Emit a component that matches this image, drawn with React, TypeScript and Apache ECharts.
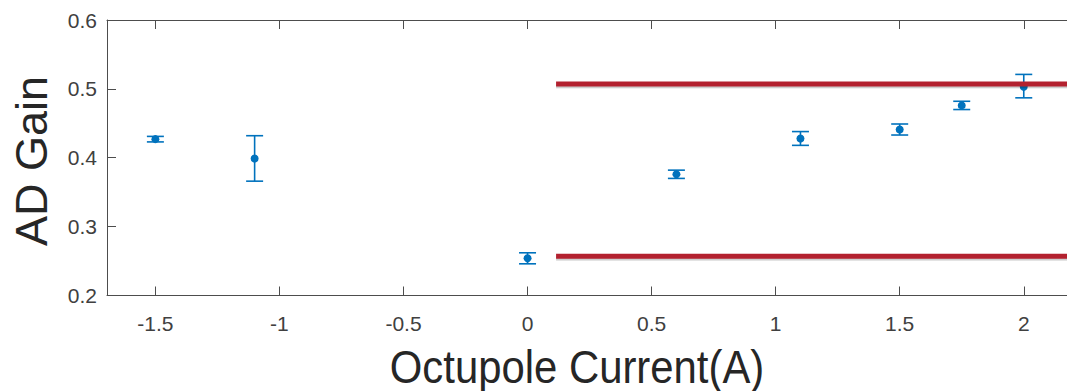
import React, { useEffect, useRef } from "react";
import * as echarts from "echarts";

// Octupole current (A)
const currents = [-1.5, -1.1, 0, 0.6, 1.1, 1.5, 1.75, 2];
// AD gain (point value)
const gains = [0.427, 0.399, 0.254, 0.376, 0.428, 0.441, 0.476, 0.503];
// error below / above the point
const errLow = [0.004, 0.033, 0.008, 0.006, 0.010, 0.008, 0.006, 0.016];
const errHigh = [0.004, 0.033, 0.008, 0.006, 0.010, 0.008, 0.006, 0.018];

// red reference lines: start x, end x, level
const refLineStart = [0.115, 0.115];
const refLineEnd = [2.4, 2.4];
const refLineLevel = [0.507, 0.257];

const xMin = -1.695;
const xMax = 2.4;
const yMin = 0.2;
const yMax = 0.6;
const yStep = 0.1;

const BLUE = "#0072BD";
const AXIS = "#4d4d4d";
const FONT = "Liberation Sans";

export default function App() {
  const ref = useRef<HTMLDivElement>(null);

  useEffect(() => {
    if (!ref.current) return;
    const chart = echarts.init(ref.current, null, { renderer: "svg" });

    const errData = currents.map((x, i) => [x, gains[i], errLow[i], errHigh[i]]);
    const lineData = refLineLevel.map((y, i) => [refLineStart[i], y, refLineEnd[i]]);

    chart.setOption({
      animation: false,
      grid: { left: 107, top: 20, width: 1016, height: 275.5 },
      xAxis: [
        {
          type: "value",
          position: "bottom",
          min: xMin,
          max: xMax,
          splitNumber: 8,
          splitLine: { show: false },
          axisLine: { show: true, onZero: false, lineStyle: { color: AXIS, width: 1 } },
          axisTick: { show: true, inside: true, length: 9, lineStyle: { color: AXIS } },
          axisLabel: {
            show: true,
            showMinLabel: false,
            showMaxLabel: false,
            margin: 17,
            fontSize: 21,
            fontFamily: FONT,
            color: "#404040",
          },
        },
        {
          type: "value",
          position: "top",
          min: xMin,
          max: xMax,
          splitNumber: 8,
          splitLine: { show: false },
          axisLine: { show: true, onZero: false, lineStyle: { color: AXIS, width: 1 } },
          axisTick: { show: true, inside: true, length: 9, lineStyle: { color: AXIS } },
          axisLabel: { show: false },
        },
      ],
      yAxis: [
        {
          type: "value",
          position: "left",
          min: yMin,
          max: yMax,
          interval: yStep,
          splitLine: { show: false },
          axisLine: { show: true, onZero: false, lineStyle: { color: AXIS, width: 1 } },
          axisTick: { show: true, inside: true, length: 9, lineStyle: { color: AXIS } },
          axisLabel: {
            margin: 10,
            fontSize: 21,
            fontFamily: FONT,
            color: "#404040",
          },
        },
      ],
      graphic: [
        {
          type: "text",
          x: 577,
          y: 367,
          scaleX: 0.91,
          style: {
            text: "Octupole Current(A)",
            fontSize: 46,
            fontFamily: FONT,
            fill: "#262626",
            textAlign: "center",
            textVerticalAlign: "middle",
          },
        },
        {
          type: "text",
          x: 31,
          y: 161,
          rotation: Math.PI / 2,
          style: {
            text: "AD Gain",
            fontSize: 45,
            fontFamily: FONT,
            fill: "#262626",
            textAlign: "center",
            textVerticalAlign: "middle",
          },
        },
      ],
      series: [
        {
          type: "custom",
          xAxisIndex: 0,
          yAxisIndex: 0,
          data: errData,
          encode: { x: 0, y: 1 },
          z: 3,
          renderItem: (params: any, api: any) => {
            const x = api.value(0);
            const y = api.value(1);
            const lo = api.value(2);
            const hi = api.value(3);
            const c = api.coord([x, y]);
            const b = api.coord([x, y - lo]);
            const t = api.coord([x, y + hi]);
            const hw = 8.5;
            const st = { stroke: BLUE, lineWidth: 1.6 };
            return {
              type: "group",
              children: [
                { type: "line", shape: { x1: c[0], y1: t[1], x2: c[0], y2: b[1] }, style: st },
                { type: "line", shape: { x1: c[0] - hw, y1: t[1], x2: c[0] + hw, y2: t[1] }, style: st },
                { type: "line", shape: { x1: c[0] - hw, y1: b[1], x2: c[0] + hw, y2: b[1] }, style: st },
                { type: "circle", shape: { cx: c[0], cy: c[1], r: 4 }, style: { fill: BLUE } },
              ],
            };
          },
        },
        {
          type: "custom",
          xAxisIndex: 0,
          yAxisIndex: 0,
          data: lineData,
          encode: { x: [0, 2], y: 1 },
          z: 5,
          silent: true,
          renderItem: (params: any, api: any) => {
            const p0 = api.coord([api.value(0), api.value(1)]);
            const p1 = api.coord([api.value(2), api.value(1)]);
            const h = 5;
            return {
              type: "group",
              children: [
                {
                  type: "rect",
                  shape: { x: p0[0], y: p0[1] - h / 2 + 2, width: p1[0] - p0[0], height: h },
                  style: { fill: "rgba(0,0,0,0.12)" },
                },
                {
                  type: "rect",
                  shape: { x: p0[0], y: p0[1] - h / 2 + 3.5, width: p1[0] - p0[0], height: h - 2 },
                  style: { fill: "rgba(0,0,0,0.08)" },
                },
                {
                  type: "rect",
                  shape: { x: p0[0], y: p0[1] - h / 2, width: p1[0] - p0[0], height: h },
                  style: { fill: "#b3212f" },
                },
              ],
            };
          },
        },
      ],
    });

    return () => chart.dispose();
  }, []);

  return (
    <div
      style={{
        position: "absolute",
        left: 0,
        top: 0,
        width: 1067,
        height: 391,
        overflow: "hidden",
        background: "#fff",
      }}
    >
      <div ref={ref} style={{ width: 1130, height: 391 }} />
    </div>
  );
}
